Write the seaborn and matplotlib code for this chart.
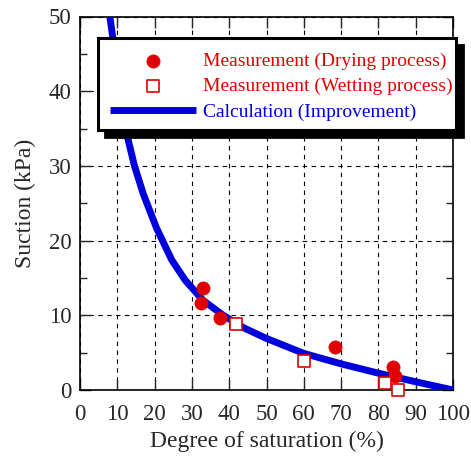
import numpy as np
import pandas as pd
import seaborn as sns
import matplotlib.pyplot as plt
from matplotlib.patches import Rectangle

# values
dry_s = [33.0, 32.4, 37.4, 68.4, 83.9, 84.4]
dry_suction = [13.6, 11.7, 9.7, 5.8, 3.1, 1.9]

wet_s = [41.8, 60.0, 81.8, 85.3]
wet_suction = [8.8, 3.9, 1.0, 0.0]

calc_s = [7.5, 8.0, 8.7, 9.9, 11.3, 12.9, 14.6, 17.0, 20.5, 24.6, 28.2,
          33.0, 38.4, 44.0, 50.0, 60.0, 70.0, 80.0, 90.0, 100.0]
calc_suction = [52.5, 50.0, 47.5, 43.0, 38.2, 33.5, 30.0, 26.2, 21.7, 17.4, 14.7,
                12.0, 10.0, 8.3, 6.9, 4.9, 3.5, 2.25, 1.1, 0.0]

dry = pd.DataFrame({'S': dry_s, 'suction': dry_suction})
wet = pd.DataFrame({'S': wet_s, 'suction': wet_suction})
calc = pd.DataFrame({'S': calc_s, 'suction': calc_suction})

sns.set_style('ticks')
plt.rcParams['font.family'] = ['Liberation Serif', 'DejaVu Serif']

red = '#e00000'
blue = '#0000dd'
W, H = 471, 462

fig = plt.figure(figsize=(W / 100, H / 100), dpi=100)
ax = fig.add_axes([80 / W, 1 - 390 / H, 373 / W, 373.5 / H])

sns.lineplot(data=calc, x='S', y='suction', ax=ax, color=blue, lw=5,
             sort=False, label='Calculation (Improvement)', zorder=3,
             solid_joinstyle='round', solid_capstyle='butt')
sns.scatterplot(data=dry, x='S', y='suction', ax=ax, color=red, s=90,
                marker='o', edgecolor=red, linewidth=0.5,
                label='Measurement (Drying process)', zorder=4, clip_on=False)
sns.scatterplot(data=wet, x='S', y='suction', ax=ax, facecolor='white', s=85,
                marker='s', edgecolor=red, linewidth=1.2,
                label='Measurement (Wetting process)', zorder=4, clip_on=False)

ax.set_xlim(0, 100)
ax.set_ylim(0, 50)
ax.set_xticks(range(0, 101, 10))
ax.set_yticks(range(0, 51, 10))
ax.set_yticks(range(5, 50, 10), minor=True)
ax.tick_params(which='major', direction='in', length=8, width=1, top=True,
               right=True, labelsize=16.5)
ax.tick_params(axis='x', pad=10)
ax.tick_params(axis='y', pad=6)
ax.tick_params(which='minor', direction='in', length=5, width=1, left=True,
               right=True)
ax.grid(True, which='major', ls=(0, (4, 4)), color='black', lw=0.8)
for sp in ax.spines.values():
    sp.set_linewidth(1.2)
    sp.set_color('black')

ax.set_xlabel('Degree of saturation (%)', fontsize=17)
ax.set_ylabel('Suction (kPa)', fontsize=17)
ax.xaxis.set_label_coords(0.5, -0.11)
ax.yaxis.set_label_coords(-0.118, 0.5)

# legend box with hard shadow, drawn in figure pixels
px = lambda x, y: (x / W, 1 - y / H)
box_l, box_t, box_r, box_b = 97.5, 38.5, 455.5, 129.5
sh = 7
shadow = Rectangle(px(box_l + sh, box_b + sh), (box_r - box_l) / W,
                   (box_b - box_t) / H, transform=fig.transFigure,
                   facecolor='black', edgecolor='black', lw=2, zorder=5,
                   clip_on=False)
frame = Rectangle(px(box_l, box_b), (box_r - box_l) / W, (box_b - box_t) / H,
                  transform=fig.transFigure, facecolor='white',
                  edgecolor='black', lw=2.2, zorder=5.5, clip_on=False)
ax.add_artist(shadow)
ax.add_artist(frame)

handles, labels = ax.get_legend_handles_labels()
order = [1, 2, 0]
leg = ax.legend([handles[i] for i in order], [labels[i] for i in order],
                loc='upper left', bbox_to_anchor=px(110, 52),
                bbox_transform=fig.transFigure,
                fontsize=14, frameon=False, borderpad=0, handlelength=4.4,
                handletextpad=0.36, labelspacing=0.4, borderaxespad=0)
leg.set_zorder(6)
for txt, c in zip(leg.get_texts(), [red, red, blue]):
    txt.set_color(c)

fig.savefig('out.png', dpi=100)
